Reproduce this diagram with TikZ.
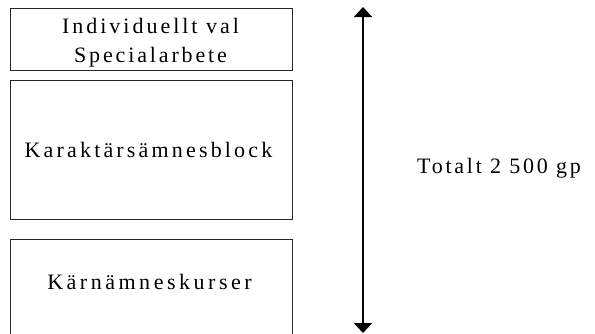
\documentclass[tikz,border=0pt]{standalone}
\usepackage{fontspec}
\setmainfont{Liberation Serif}
\usetikzlibrary{arrows.meta}
\newcommand\lsp[1]{\addfontfeature{LetterSpace=#1}}
\begin{document}
\begin{tikzpicture}[x=1pt,y=-1pt,
  box/.style={draw=black!85, line width=1pt, minimum width=282pt, inner sep=0pt},
  txt/.style={font=\fontsize{22}{29}\selectfont, inner sep=0pt},
  bigarrow/.style={line width=2pt, {Triangle[length=10pt,width=18pt]}-{Triangle[length=10pt,width=18pt]}}]
\useasboundingbox (0,0) rectangle (595,333);
\node[box, minimum height=62pt] (b1) at (151.5,39) {};
\node[box, minimum height=139pt] (b2) at (151.5,149.5) {};
\node[box, minimum height=106pt] (b3) at (151.5,292) {};
\node[txt, align=center] (t1) at (150.5,42.4) {\lsp{13.6}Individuellt val\\\lsp{13}Specialarbete};
\node[txt, anchor=base] (t2) at (148.5,157) {\lsp{14.4}Karaktärsämnesblock};
\node[txt, anchor=base] (t3) at (149.5,289) {\lsp{16}Kärnämneskurser};
\coordinate (atop) at (363,7);
\coordinate (abot) at (363,333);
\draw[bigarrow] (atop) -- (abot);
\node[txt, anchor=base west] (tot) at (417,173.5) {\lsp{12.5}Totalt 2 500 gp};
\end{tikzpicture}
\end{document}
